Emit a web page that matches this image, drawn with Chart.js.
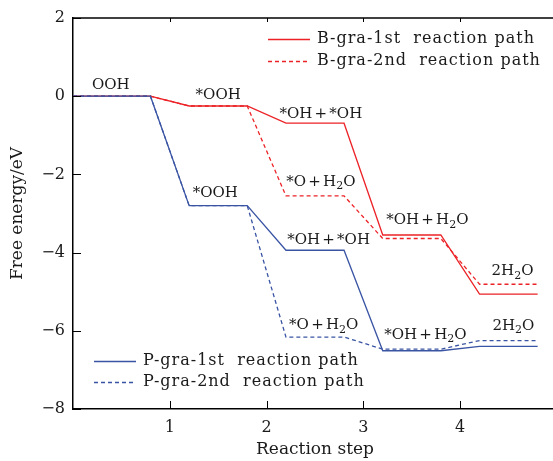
<!DOCTYPE html>
<html>
<head>
<meta charset="utf-8">
<script src="https://cdn.jsdelivr.net/npm/chart.js@4"></script>
<style>
  html, body { margin: 0; padding: 0; background: #fff; overflow: hidden; }
  canvas { display: block; }
</style>
</head>
<body>
<canvas id="energyChart" width="560" height="461"></canvas>
<script>
// reaction coordinate of every corner of the step profiles
const stepX = [0, 0.8, 1.2, 1.8, 2.2, 2.8, 3.2, 3.8, 4.2, 4.8];

// free energies (eV)
const bGra1st = [0, 0, -0.25, -0.25, -0.69, -0.69, -3.55, -3.55, -5.06, -5.06];
const bGra2nd = [0, 0, -0.25, -0.25, -2.55, -2.55, -3.64, -3.64, -4.81, -4.81];
const pGra1st = [0, 0, -2.80, -2.80, -3.94, -3.94, -6.51, -6.51, -6.40, -6.40];
const pGra2nd = [0, 0, -2.80, -2.80, -6.16, -6.16, -6.47, -6.47, -6.25, -6.25];

const seriesNames = [
  'B-gra-1st  reaction path',
  'B-gra-2nd  reaction path',
  'P-gra-1st  reaction path',
  'P-gra-2nd  reaction path'
];

const xTicks = [1, 2, 3, 4];
const yTicks = [-8, -6, -4, -2, 0, 2];

// intermediate names ("_2" = subscript 2)
const stateLabels = [
  { text: 'OOH', x: 0.39, y: 0.29 },
  { text: '*OOH', x: 1.50, y: 0.03 },
  { text: '*OOH', x: 1.47, y: -2.47 },
  { text: '*OH+*OH', x: 2.56, y: -0.46 },
  { text: '*O+H_2O', x: 2.56, y: -2.19 },
  { text: '*OH+H_2O', x: 3.66, y: -3.17 },
  { text: '*OH+*OH', x: 2.64, y: -3.68 },
  { text: '*O+H_2O', x: 2.59, y: -5.85 },
  { text: '*OH+H_2O', x: 3.64, y: -6.10 },
  { text: '2H_2O', x: 4.54, y: -4.47 },
  { text: '2H_2O', x: 4.55, y: -5.87 }
];

const RED = '#ec2227';
const BLUE = '#3a54a4';
const FONT = '"DejaVu Serif", "Liberation Serif", serif';
const TEXT = '#1a1a1a';

function toPoints(ys) {
  return stepX.map((x, i) => ({ x: x, y: ys[i] }));
}

// draws "H_2O" style text, centred on (cx, cy); "+" gets a little room
function drawRich(ctx, text, cx, cy, size) {
  const parts = [];
  for (let i = 0; i < text.length; i++) {
    if (text[i] === '_') {
      parts.push({ s: text[i + 1], sub: true });
      i++;
    } else if (text[i] === '+') {
      parts.push({ s: '+', sub: false, pad: size * 0.15 });
    } else {
      parts.push({ s: text[i], sub: false });
    }
  }
  const big = size + 'px ' + FONT;
  const small = Math.round(size * 0.72) + 'px ' + FONT;
  let w = 0;
  parts.forEach(p => {
    ctx.font = p.sub ? small : big;
    p.w = ctx.measureText(p.s).width + 2 * (p.pad || 0);
    w += p.w;
  });
  let x = cx - w / 2;
  ctx.textAlign = 'left';
  ctx.textBaseline = 'middle';
  parts.forEach(p => {
    ctx.font = p.sub ? small : big;
    ctx.fillText(p.s, x + (p.pad || 0), p.sub ? cy + size * 0.32 : cy);
    x += p.w;
  });
}

const decorations = {
  id: 'decorations',
  afterDraw(chart) {
    const ctx = chart.ctx;
    const area = chart.chartArea;
    const xs = chart.scales.x;
    const ys = chart.scales.y;
    ctx.save();

    // top frame line
    ctx.strokeStyle = '#000';
    ctx.lineWidth = 1.5;
    ctx.beginPath();
    ctx.moveTo(area.left, area.top);
    ctx.lineTo(area.right, area.top);
    ctx.stroke();

    // inward tick marks
    ctx.lineWidth = 1;
    ctx.beginPath();
    xTicks.forEach(v => {
      const px = Math.round(xs.getPixelForValue(v)) + 0.5;
      ctx.moveTo(px, area.bottom);
      ctx.lineTo(px, area.bottom - 8);
      ctx.moveTo(px, area.top);
      ctx.lineTo(px, area.top + 4);
    });
    yTicks.forEach(v => {
      const py = Math.round(ys.getPixelForValue(v)) + 0.5;
      ctx.moveTo(area.left, py);
      ctx.lineTo(area.left + 8, py);
    });
    ctx.stroke();

    // state names
    ctx.fillStyle = TEXT;
    stateLabels.forEach(l => {
      drawRich(ctx, l.text, xs.getPixelForValue(l.x), ys.getPixelForValue(l.y), 15);
    });

    // two legends: B-gra top right, P-gra bottom left
    const spots = [
      { x1: area.left + 195, y: area.top + 21 },
      { x1: area.left + 195, y: area.top + 43 },
      { x1: area.left + 21, y: area.bottom - 48 },
      { x1: area.left + 21, y: area.bottom - 27 }
    ];
    chart.data.datasets.forEach(ds => {
      const idx = seriesNames.indexOf(ds.label);
      const s = spots[idx];
      ctx.strokeStyle = ds.borderColor;
      ctx.lineWidth = 1.3;
      ctx.setLineDash(ds.borderDash || []);
      ctx.beginPath();
      ctx.moveTo(s.x1, s.y + 0.5);
      ctx.lineTo(s.x1 + 42, s.y + 0.5);
      ctx.stroke();
      ctx.setLineDash([]);
      ctx.fillStyle = TEXT;
      ctx.font = '16px ' + FONT;
      ctx.letterSpacing = '1px';
      ctx.textAlign = 'left';
      ctx.textBaseline = 'middle';
      ctx.fillText(ds.label, s.x1 + 49, s.y);
      ctx.letterSpacing = '0px';
    });

    ctx.restore();
  }
};

new Chart(document.getElementById('energyChart'), {
  type: 'line',
  data: {
    datasets: [
      { label: seriesNames[2], data: toPoints(pGra1st), borderColor: BLUE },
      { label: seriesNames[3], data: toPoints(pGra2nd), borderColor: BLUE, borderDash: [4, 3] },
      { label: seriesNames[0], data: toPoints(bGra1st), borderColor: RED },
      { label: seriesNames[1], data: toPoints(bGra2nd), borderColor: RED, borderDash: [4, 3] }
    ].map(ds => Object.assign(ds, {
      borderWidth: 1.3,
      pointRadius: 0,
      tension: 0,
      fill: false
    }))
  },
  options: {
    responsive: false,
    animation: false,
    layout: { padding: { top: 18, right: 3, left: 0, bottom: 0 } },
    plugins: {
      legend: { display: false },
      tooltip: { enabled: false }
    },
    scales: {
      x: {
        type: 'linear',
        min: 0,
        max: 5,
        afterFit: scale => { scale.height = 52; },
        afterBuildTicks: scale => { scale.ticks = xTicks.map(v => ({ value: v })); },
        grid: { display: false, drawTicks: false },
        border: { display: true, color: '#000', width: 1.5 },
        ticks: {
          padding: 9,
          color: TEXT,
          font: { family: FONT, size: 16 },
          callback: v => String(v)
        },
        title: {
          display: true,
          text: 'Reaction step',
          color: TEXT,
          font: { family: FONT, size: 17 },
          padding: { top: 0, bottom: 1 }
        }
      },
      y: {
        min: -8,
        max: 2,
        afterFit: scale => { scale.width = 73; },
        afterBuildTicks: scale => { scale.ticks = yTicks.map(v => ({ value: v })); },
        grid: { display: false, drawTicks: false },
        border: { display: true, color: '#000', width: 1.5 },
        ticks: {
          padding: 8,
          color: TEXT,
          font: { family: FONT, size: 16 },
          callback: v => (v < 0 ? '\u2212' + Math.abs(v) : String(v))
        },
        title: {
          display: true,
          text: 'Free energy/eV',
          color: TEXT,
          font: { family: FONT, size: 17 },
          padding: { top: 7, bottom: 0 }
        }
      }
    }
  },
  plugins: [decorations]
});
</script>
</body>
</html>
